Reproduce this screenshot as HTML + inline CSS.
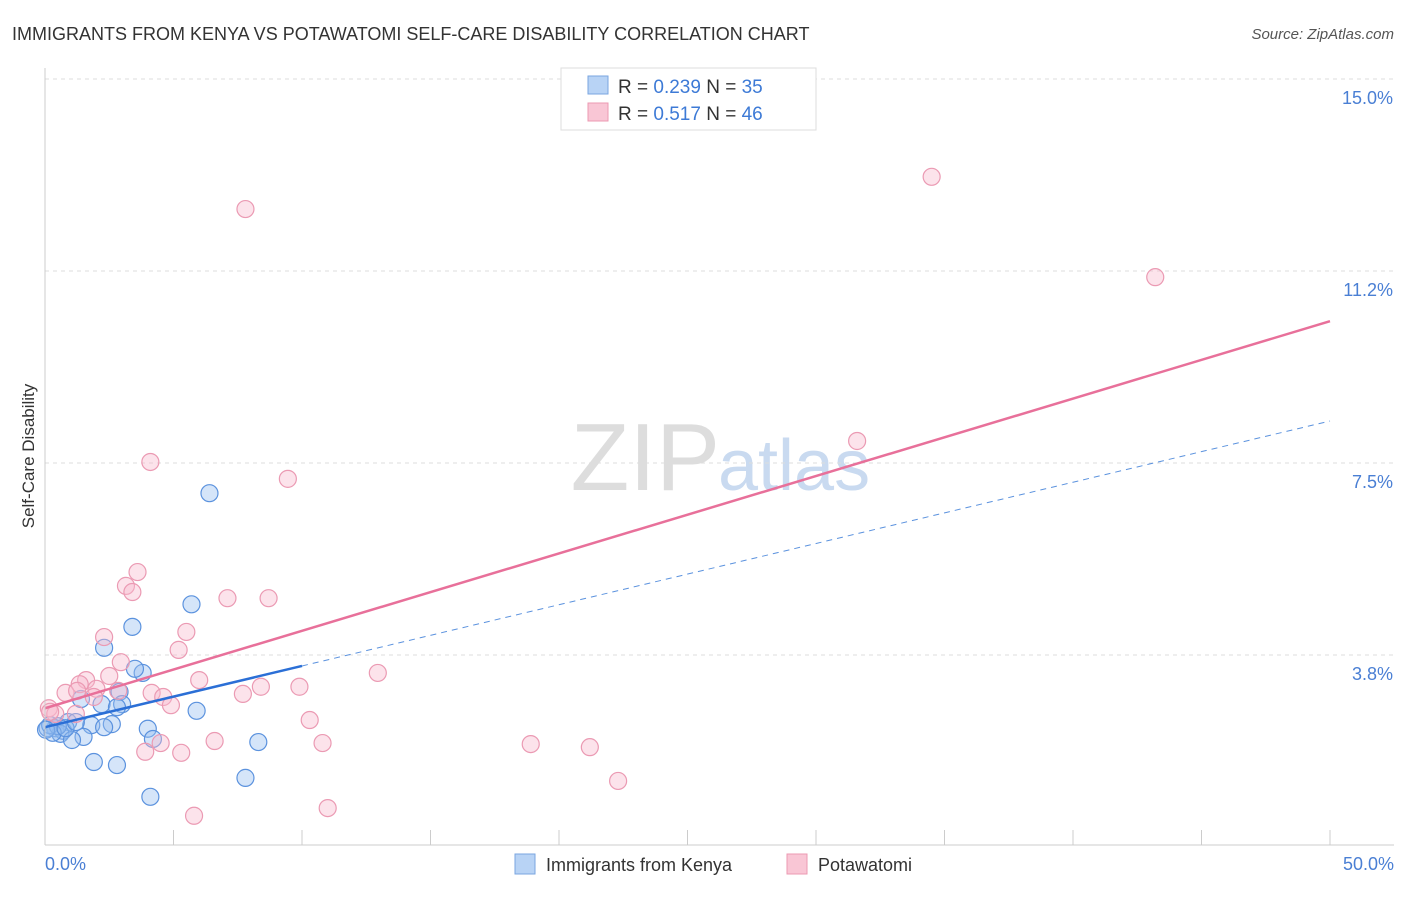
<!DOCTYPE html>
<html><head><meta charset="utf-8"><style>
body{margin:0;background:#fff;font-family:"Liberation Sans",sans-serif;}
svg text{font-family:"Liberation Sans",sans-serif;}
</style></head><body>
<svg width="1406" height="892" id="c">
<text x="12" y="40" font-size="18" fill="#333">IMMIGRANTS FROM KENYA VS POTAWATOMI SELF-CARE DISABILITY CORRELATION CHART</text>
<text x="1394" y="39" font-size="15" fill="#555" text-anchor="end" font-style="italic">Source: ZipAtlas.com</text>
<text x="720" y="490" font-size="96" fill="#ddd" text-anchor="end" font-family="Liberation Serif">ZIP</text>
<text x="718" y="490" font-size="72" fill="#c9daf0">atlas</text>
<text x="34" y="456" font-size="17" fill="#333" transform="rotate(-90 34 456)" text-anchor="middle">Self-Care Disability</text>
<g id="grid"></g><g id="pts"></g><g id="lines"></g>
<line x1="45" y1="68" x2="45" y2="845" stroke="#ccc"/>
<line x1="45" y1="845" x2="1394" y2="845" stroke="#ccc"/>
<text x="45" y="870" font-size="18" fill="#4a7fd4">0.0%</text>
<text x="1394" y="870" font-size="18" fill="#4a7fd4" text-anchor="end">50.0%</text>
<g>
<rect x="561" y="68" width="255" height="62" fill="#fff" stroke="#ddd"/>
<rect x="588" y="76" width="20" height="18" fill="#b8d3f5" stroke="#7aa6e0"/>
<rect x="588" y="103" width="20" height="18" fill="#f9c6d5" stroke="#ec99b2"/>
<text x="618" y="93" font-size="19" fill="#333">R = <tspan fill="#3d7ad6">0.239</tspan>   N = <tspan fill="#3d7ad6">35</tspan></text>
<text x="618" y="120" font-size="19" fill="#333">R = <tspan fill="#3d7ad6"> 0.517</tspan>   N = <tspan fill="#3d7ad6">46</tspan></text>
</g>
<g>
<rect x="515" y="854" width="20" height="20" fill="#b8d3f5" stroke="#7aa6e0"/>
<text x="546" y="871" font-size="18" fill="#333">Immigrants from Kenya</text>
<rect x="787" y="854" width="20" height="20" fill="#f9c6d5" stroke="#ec99b2"/>
<text x="818" y="871" font-size="18" fill="#333">Potawatomi</text>
</g>
</svg>
<script>
const yTicks=[15,11.25,7.5,3.75];
const yTickLabels=["15.0%","11.2%","7.5%","3.8%"];
const xTicks=[0,5,10,15,20,25,30,35,40,45,50];
const kenyaX=[6.4,5.7,3.4,2.3,3.8,3.5,2.9,1.4,3.0,2.2,5.9,0.9,1.8,2.6,2.3,0.4,0.1,0.7,0.6,4.0,1.5,1.05,4.2,8.3,1.9,2.8,7.8,4.1,0.2,0.5,0.04,0.3,0.8,1.2,2.8];
const kenyaY=[6.91,4.74,4.30,3.89,3.40,3.48,3.03,2.89,2.79,2.79,2.66,2.44,2.38,2.40,2.34,2.32,2.32,2.27,2.21,2.31,2.15,2.09,2.11,2.05,1.66,1.60,1.35,0.98,2.38,2.36,2.29,2.23,2.32,2.44,2.73];
const potX=[7.8,34.5,43.2,31.6,4.1,9.45,3.6,3.15,3.4,7.1,8.7,2.3,5.5,5.2,2.95,2.5,1.6,1.35,6.0,12.95,0.8,1.25,2.0,4.15,4.6,4.9,8.4,9.9,7.7,2.85,1.9,10.3,0.15,0.4,1.2,6.6,10.8,18.9,21.2,4.5,3.9,5.3,22.3,11.0,5.8,0.2];
const potY=[12.46,13.09,11.13,7.93,7.52,7.19,5.37,5.10,4.98,4.86,4.86,4.10,4.20,3.85,3.61,3.34,3.26,3.18,3.26,3.40,3.01,3.05,3.09,3.01,2.93,2.77,3.13,3.13,2.99,3.05,2.93,2.48,2.71,2.60,2.60,2.07,2.03,2.01,1.95,2.03,1.86,1.84,1.29,0.76,0.61,2.64];
const kenyaTrend=[2.34,8.32], kenyaSolidEnd=10;
const potTrend=[2.71,10.27];
const X=v=>45+v*25.7, Y=v=>847-v*51.2;
const NS="http://www.w3.org/2000/svg";
function mk(t,a,p){const e=document.createElementNS(NS,t);for(const k in a)e.setAttribute(k,a[k]);p.appendChild(e);return e;}
const g=document.getElementById('grid');
yTicks.forEach((v,i)=>{
 const l=mk('line',{x1:45,x2:1394,y1:Y(v),y2:Y(v),stroke:'#ddd','stroke-dasharray':'4,4'},g);
 
 
 const t=mk('text',{x:1393,y:Y(v)+25,'font-size':18,fill:'#4a7fd4','text-anchor':'end'},g);
 t.textContent=yTickLabels[i];
 
 
});
xTicks.forEach(v=>{
 const l=mk('line',{x1:X(v),x2:X(v),y1:830,y2:845,stroke:'#ccc'},g);
 
 
});
const p=document.getElementById('pts');
kenyaX.forEach((x,i)=>{
 const c=mk('circle',{cx:X(x),cy:Y(kenyaY[i]),r:8.5,fill:'rgba(150,190,240,0.4)',stroke:'#5b92de','stroke-width':1.2},p);
 
 
});
potX.forEach((x,i)=>{
 const c=mk('circle',{cx:X(x),cy:Y(potY[i]),r:8.5,fill:'rgba(248,185,205,0.4)',stroke:'#eb9ab3','stroke-width':1.2},p);
 
 
});
const L=document.getElementById('lines');
const ky=x=>kenyaTrend[0]+(kenyaTrend[1]-kenyaTrend[0])*x/50;
let a=mk('line',{x1:X(kenyaSolidEnd),y1:Y(ky(kenyaSolidEnd)),x2:X(50),y2:Y(ky(50)),stroke:'#5b92de','stroke-width':1,'stroke-dasharray':'6,5'},L);


a=mk('line',{x1:X(0),y1:Y(ky(0)),x2:X(kenyaSolidEnd),y2:Y(ky(kenyaSolidEnd)),stroke:'#2b6fd6','stroke-width':2.5},L);


a=mk('line',{x1:X(0),y1:Y(potTrend[0]),x2:X(50),y2:Y(potTrend[1]),stroke:'#e8709a','stroke-width':2.5},L);


</script>
</body></html>
